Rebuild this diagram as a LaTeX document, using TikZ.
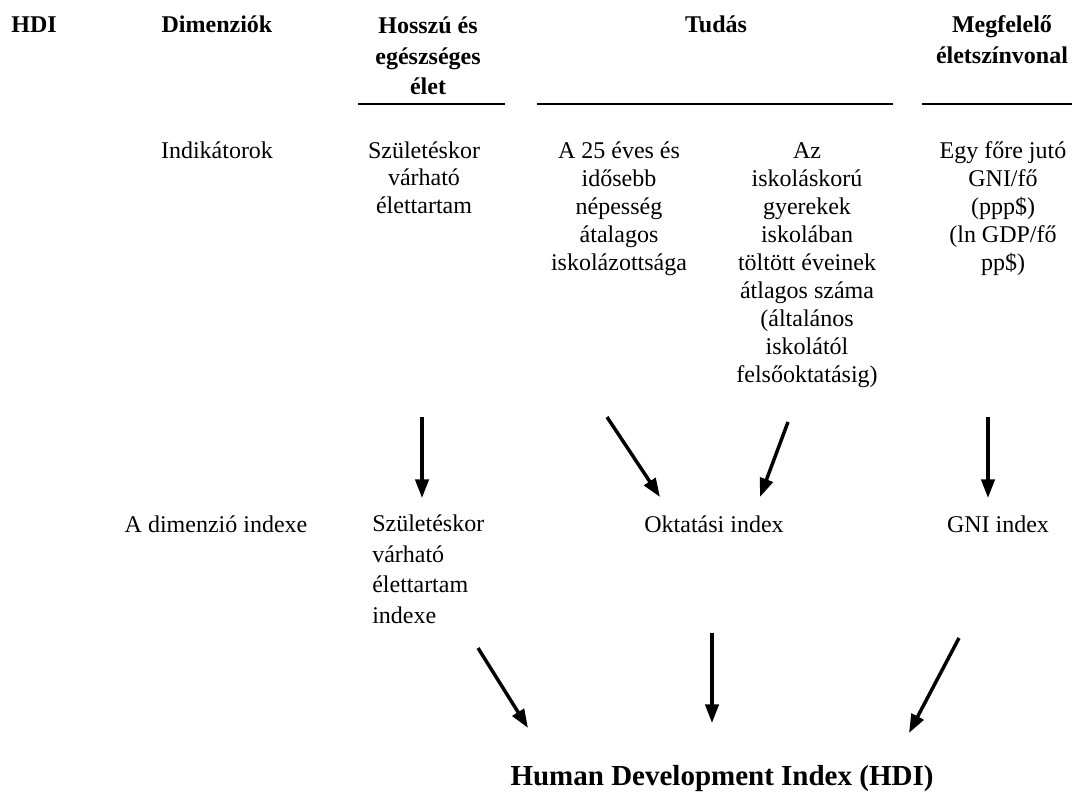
\documentclass[tikz,border=0pt]{standalone}
\usepackage{fontspec}
\setmainfont{Liberation Serif}
\usepackage{tikz}
\usetikzlibrary{arrows.meta, positioning}

\tikzset{
  txt/.style={font=\fontsize{18pt}{21pt}\selectfont, align=center, inner sep=0pt, anchor=base},
  head/.style={txt, font=\bfseries\fontsize{18pt}{23.25pt}\selectfont},
  rule/.style={line width=2pt},
  arr/.style={line width=2.6pt, -{Triangle[length=14pt,width=10pt]}}
}

\begin{document}
\begin{tikzpicture}[x=0.75pt, y=-0.75pt]
\useasboundingbox (0,0) rectangle (1072,792);

% Headings (base anchor sits on the last line)
\node[head] (hdi) at (34,33) {HDI};
\node[head] (dim) at (217,33) {Dimenziók};
\node[head] (health) at (428,95) {Hosszú és\\egészséges\\élet};
\node[head] (know) at (716,33) {Tudás};
\node[head] (living) at (1002,64) {Megfelelő\\életszínvonal};
\draw[rule] (358,104) -- (505,104);
\draw[rule] (537,104) -- (893,104);
\draw[rule] (922,104) -- (1072,104);

% Indicators
\node[txt] (ind) at (217,158) {Indikátorok};
\node[txt] (lifeexp) at (424,214) {Születéskor\\várható\\élettartam};
\node[txt] (mys) at (619,270) {A 25 éves és\\idősebb\\népesség\\átalagos\\iskolázottsága};
\node[txt] (eys) at (807,382) {Az\\iskoláskorú\\gyerekek\\iskolában\\töltött éveinek\\átlagos száma\\(általános\\iskolától\\felsőoktatásig)};
\node[txt] (gni) at (1003,270) {Egy főre jutó\\GNI/fő\\(ppp\$)\\(ln GDP/fő\\pp\$)};

% Dimension indices
\node[txt] (dimidx) at (216,532) {A dimenzió indexe};
\node[txt, anchor=base west, align=left, font=\fontsize{18pt}{22.9pt}\selectfont] (lifeidx) at (372,623.5) {Születéskor\\várható\\élettartam\\indexe};
\node[txt] (eduidx) at (714,532) {Oktatási index};
\node[txt] (gniidx) at (998,532) {GNI index};

% Final index
\node[txt, font=\bfseries\fontsize{21.75pt}{26pt}\selectfont] (hdimain) at (722,785) {Human Development Index (HDI)};

% Arrows to the dimension indices
\coordinate (a1s) at (422,417); \coordinate (a1e) at (422,498);
\coordinate (a2s) at (607,417); \coordinate (a2e) at (660,497);
\coordinate (a3s) at (788,422); \coordinate (a3e) at (760,497);
\coordinate (a4s) at (988,417); \coordinate (a4e) at (988,498);
\draw[arr] (a1s) -- (a1e);
\draw[arr] (a2s) -- (a2e);
\draw[arr] (a3s) -- (a3e);
\draw[arr] (a4s) -- (a4e);

% Arrows to the HDI
\coordinate (b1s) at (478,648); \coordinate (b1e) at (528,728);
\coordinate (b2s) at (712,633); \coordinate (b2e) at (712,723);
\coordinate (b3s) at (959,638); \coordinate (b3e) at (909,733);
\draw[arr] (b1s) -- (b1e);
\draw[arr] (b2s) -- (b2e);
\draw[arr] (b3s) -- (b3e);
\end{tikzpicture}
\end{document}
